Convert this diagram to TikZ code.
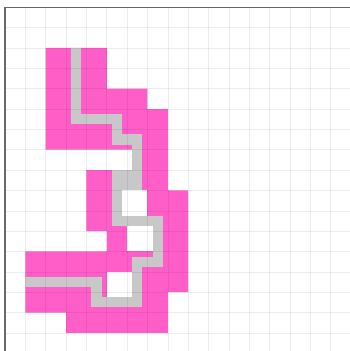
\documentclass[tikz,border=0pt]{standalone}
\usepackage{tikz}
\definecolor{cellpink}{RGB}{255, 94, 200}
\definecolor{pathgray}{RGB}{200, 200, 200}
\definecolor{framegray}{RGB}{105, 105, 105}

\begin{document}
\begin{tikzpicture}[x=0.5cm, y=-0.5cm,
    pinkcell/.style={fill=cellpink},
    holecell/.style={fill=white},
    trace/.style={draw=pathgray, line width=0.25cm, line join=miter},
    gridline/.style={draw=black, opacity=0.07, line width=0.4pt}]
    \useasboundingbox (-0.246,-0.359) rectangle (16.95,16.89);
    \clip (-0.246,-0.359) rectangle (16.95,16.89);

    % shape cells: row / first column / last column
    \fill[pinkcell] \foreach \r/\a/\b in {2/2/4, 3/2/4, 4/2/6, 5/2/7, 6/2/7, 7/6.5/7, 8/4/7,
        9/4/8, 10/4/8, 11/5/8, 12/1/8, 13/1/8, 14/1/7, 15/3/7} {(\a,\r) rectangle (\b+1,\r+1)};

    % holes
    \fill[holecell] (5.5,9) rectangle (7,10.5);
    \fill[holecell] (6,10.5) rectangle (7.5,12);
    \fill[holecell] (5,13) rectangle (6.5,14.5);

    % traced path
    \fill[pathgray] (5.25,8) rectangle (6.75,9);
    \draw[trace] (3.5,2) -- (3.5,5.5) -- (5.5,5.5) -- (5.5,6.5) -- (6.5,6.5) -- (6.5,9);
    \draw[trace] (5.5,8) -- (5.5,10.5) -- (7.5,10.5) -- (7.5,12.5) -- (6.5,12.5)
        -- (6.5,14.5) -- (4.5,14.5) -- (4.5,13.5) -- (1,13.5);

    % grid and frame
    \foreach \k in {0,...,17} {
        \draw[gridline] (\k,0) -- (\k,17);
        \draw[gridline] (0,\k) -- (17,\k);
    }
    \draw[framegray, line width=0.9pt] (0,17) -- (0,0) -- (17,0);
\end{tikzpicture}
\end{document}
